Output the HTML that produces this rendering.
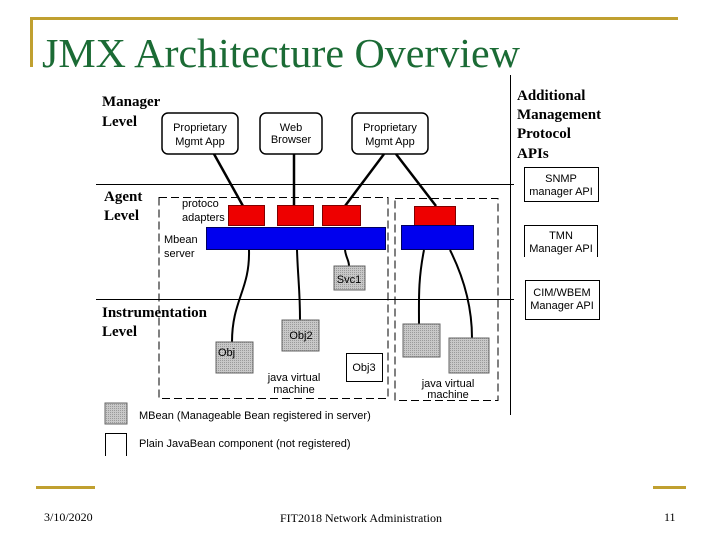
<!DOCTYPE html>
<html><head><meta charset="utf-8"><style>
html,body{margin:0;padding:0;background:#fff;}
svg{display:block;}
.s{font-family:"Liberation Sans",sans-serif;font-size:11px;fill:#000;}
.b{font-family:"Liberation Serif",serif;font-weight:bold;font-size:15px;fill:#000;}
</style></head><body>
<svg width="720" height="540" viewBox="0 0 720 540" xmlns="http://www.w3.org/2000/svg">
<defs>
<pattern id="g" width="2" height="2" patternUnits="userSpaceOnUse">
<rect width="2" height="2" fill="#c8c8c8"/><rect width="1" height="1" fill="#9a9a9a"/>
</pattern>
</defs>
<!-- slide frame -->
<rect x="30" y="17" width="648" height="3" fill="#c0a030"/>
<rect x="30" y="17" width="3" height="50" fill="#c0a030"/>
<text x="42" y="67" font-family="Liberation Serif,serif" font-size="41" fill="#1b6b35" textLength="478" lengthAdjust="spacingAndGlyphs">JMX Architecture Overview</text>
<rect x="36" y="486" width="59" height="3" fill="#c0a030"/>
<rect x="653" y="486" width="33" height="3" fill="#c0a030"/>
<text x="44" y="521" font-family="Liberation Serif,serif" font-size="12">3/10/2020</text>
<text x="280" y="522" font-family="Liberation Serif,serif" font-size="12">FIT2018 Network Administration</text>
<text x="664" y="521" font-family="Liberation Serif,serif" font-size="12">11</text>

<!-- level lines -->
<line x1="510.5" y1="75" x2="510.5" y2="415" stroke="#000"/>
<line x1="96" y1="184.5" x2="514" y2="184.5" stroke="#000"/>
<line x1="96" y1="299.5" x2="514" y2="299.5" stroke="#000"/>

<text class="b" x="102" y="106">Manager</text>
<text class="b" x="102" y="126">Level</text>
<text class="b" x="104" y="201">Agent</text>
<text class="b" x="104" y="220">Level</text>
<text class="b" x="102" y="317">Instrumentation</text>
<text class="b" x="102" y="336">Level</text>

<text class="b" x="517" y="100">Additional</text>
<text class="b" x="517" y="119">Management</text>
<text class="b" x="517" y="138">Protocol</text>
<text class="b" x="517" y="158">APIs</text>

<rect x="524.5" y="167.5" width="74" height="34" fill="#fff" stroke="#000"/>
<text class="s" x="561" y="182" text-anchor="middle">SNMP</text>
<text class="s" x="561" y="195" text-anchor="middle">manager API</text>
<path d="M524.5 257 V225.5 H597.5 V257" fill="none" stroke="#000"/>
<text class="s" x="561" y="239" text-anchor="middle">TMN</text>
<text class="s" x="561" y="252" text-anchor="middle">Manager API</text>
<rect x="525.5" y="280.5" width="74" height="39" fill="#fff" stroke="#000"/>
<text class="s" x="562" y="296" text-anchor="middle">CIM/WBEM</text>
<text class="s" x="562" y="309" text-anchor="middle">Manager API</text>

<!-- manager boxes -->
<rect x="162" y="113" width="76" height="41" rx="6" fill="#fff" stroke="#000" stroke-width="1.5"/>
<text class="s" x="200" y="131" text-anchor="middle">Proprietary</text>
<text class="s" x="200" y="145" text-anchor="middle">Mgmt App</text>
<rect x="260" y="113" width="62" height="41" rx="6" fill="#fff" stroke="#000" stroke-width="1.5"/>
<text class="s" x="291" y="131" text-anchor="middle">Web</text>
<text class="s" x="291" y="143" text-anchor="middle">Browser</text>
<rect x="352" y="113" width="76" height="41" rx="6" fill="#fff" stroke="#000" stroke-width="1.5"/>
<text class="s" x="390" y="131" text-anchor="middle">Proprietary</text>
<text class="s" x="390" y="145" text-anchor="middle">Mgmt App</text>

<!-- thick connectors -->
<g stroke="#000" stroke-width="2.5" fill="none">
<line x1="214" y1="154" x2="243" y2="206"/>
<line x1="294" y1="154" x2="294" y2="206"/>
<line x1="384" y1="154" x2="345" y2="206"/>
<line x1="396" y1="154" x2="436" y2="206"/>
</g>

<!-- dashed JVMs -->
<rect x="159" y="197.5" width="229" height="201" fill="none" stroke="#000" stroke-dasharray="8,4"/>
<rect x="395" y="198.5" width="103" height="202" fill="none" stroke="#000" stroke-dasharray="8,4"/>

<text class="s" x="182" y="207">protoco</text>
<text class="s" x="182" y="221">adapters</text>
<text class="s" x="164" y="243">Mbean</text>
<text class="s" x="164" y="257">server</text>

<g fill="#ee0000" stroke="#800000">
<rect x="228.5" y="205.5" width="36" height="20"/>
<rect x="277.5" y="205.5" width="36" height="20"/>
<rect x="322.5" y="205.5" width="38" height="20"/>
<rect x="414.5" y="206.5" width="41" height="19"/>
</g>
<g fill="#0000ee" stroke="#000060">
<rect x="206.5" y="227.5" width="179" height="22"/>
<rect x="401.5" y="225.5" width="72" height="24"/>
</g>

<!-- thin curved connectors -->
<g stroke="#000" stroke-width="2" fill="none">
<path d="M249 250 C250 290 232 300 232 342"/>
<path d="M297 250 C298 280 300 290 300 320"/>
<path d="M345 250 C346 258 349 260 349 266"/>
<path d="M424 250 C418 280 419 300 419 324"/>
<path d="M450 250 C465 280 472 310 472 338"/>
</g>

<rect x="334" y="266" width="31" height="24" fill="url(#g)" stroke="#666"/>
<text class="s" x="349" y="283" text-anchor="middle">Svc1</text>
<rect x="282" y="320" width="37" height="31" fill="url(#g)" stroke="#666"/>
<text class="s" x="301" y="339" text-anchor="middle">Obj2</text>
<rect x="216" y="342" width="37" height="31" fill="url(#g)" stroke="#666"/>
<text class="s" x="218" y="356">Obj</text>
<rect x="346.5" y="353.5" width="36" height="28" fill="#fff" stroke="#000"/>
<text class="s" x="364" y="371" text-anchor="middle">Obj3</text>
<rect x="403" y="324" width="37" height="33" fill="url(#g)" stroke="#666"/>
<rect x="449" y="338" width="40" height="35" fill="url(#g)" stroke="#666"/>
<text class="s" x="294" y="381" text-anchor="middle">java virtual</text>
<text class="s" x="294" y="393" text-anchor="middle">machine</text>
<text class="s" x="448" y="387" text-anchor="middle">java virtual</text>
<text class="s" x="448" y="398" text-anchor="middle">machine</text>

<!-- legend -->
<rect x="105" y="403" width="22" height="21" fill="url(#g)" stroke="#666"/>
<text class="s" x="139" y="419">MBean (Manageable Bean registered in server)</text>
<path d="M105.5 456 V433.5 H126.5 V456" fill="none" stroke="#000"/>
<text class="s" x="139" y="447">Plain JavaBean component (not registered)</text>
</svg>
</body></html>
